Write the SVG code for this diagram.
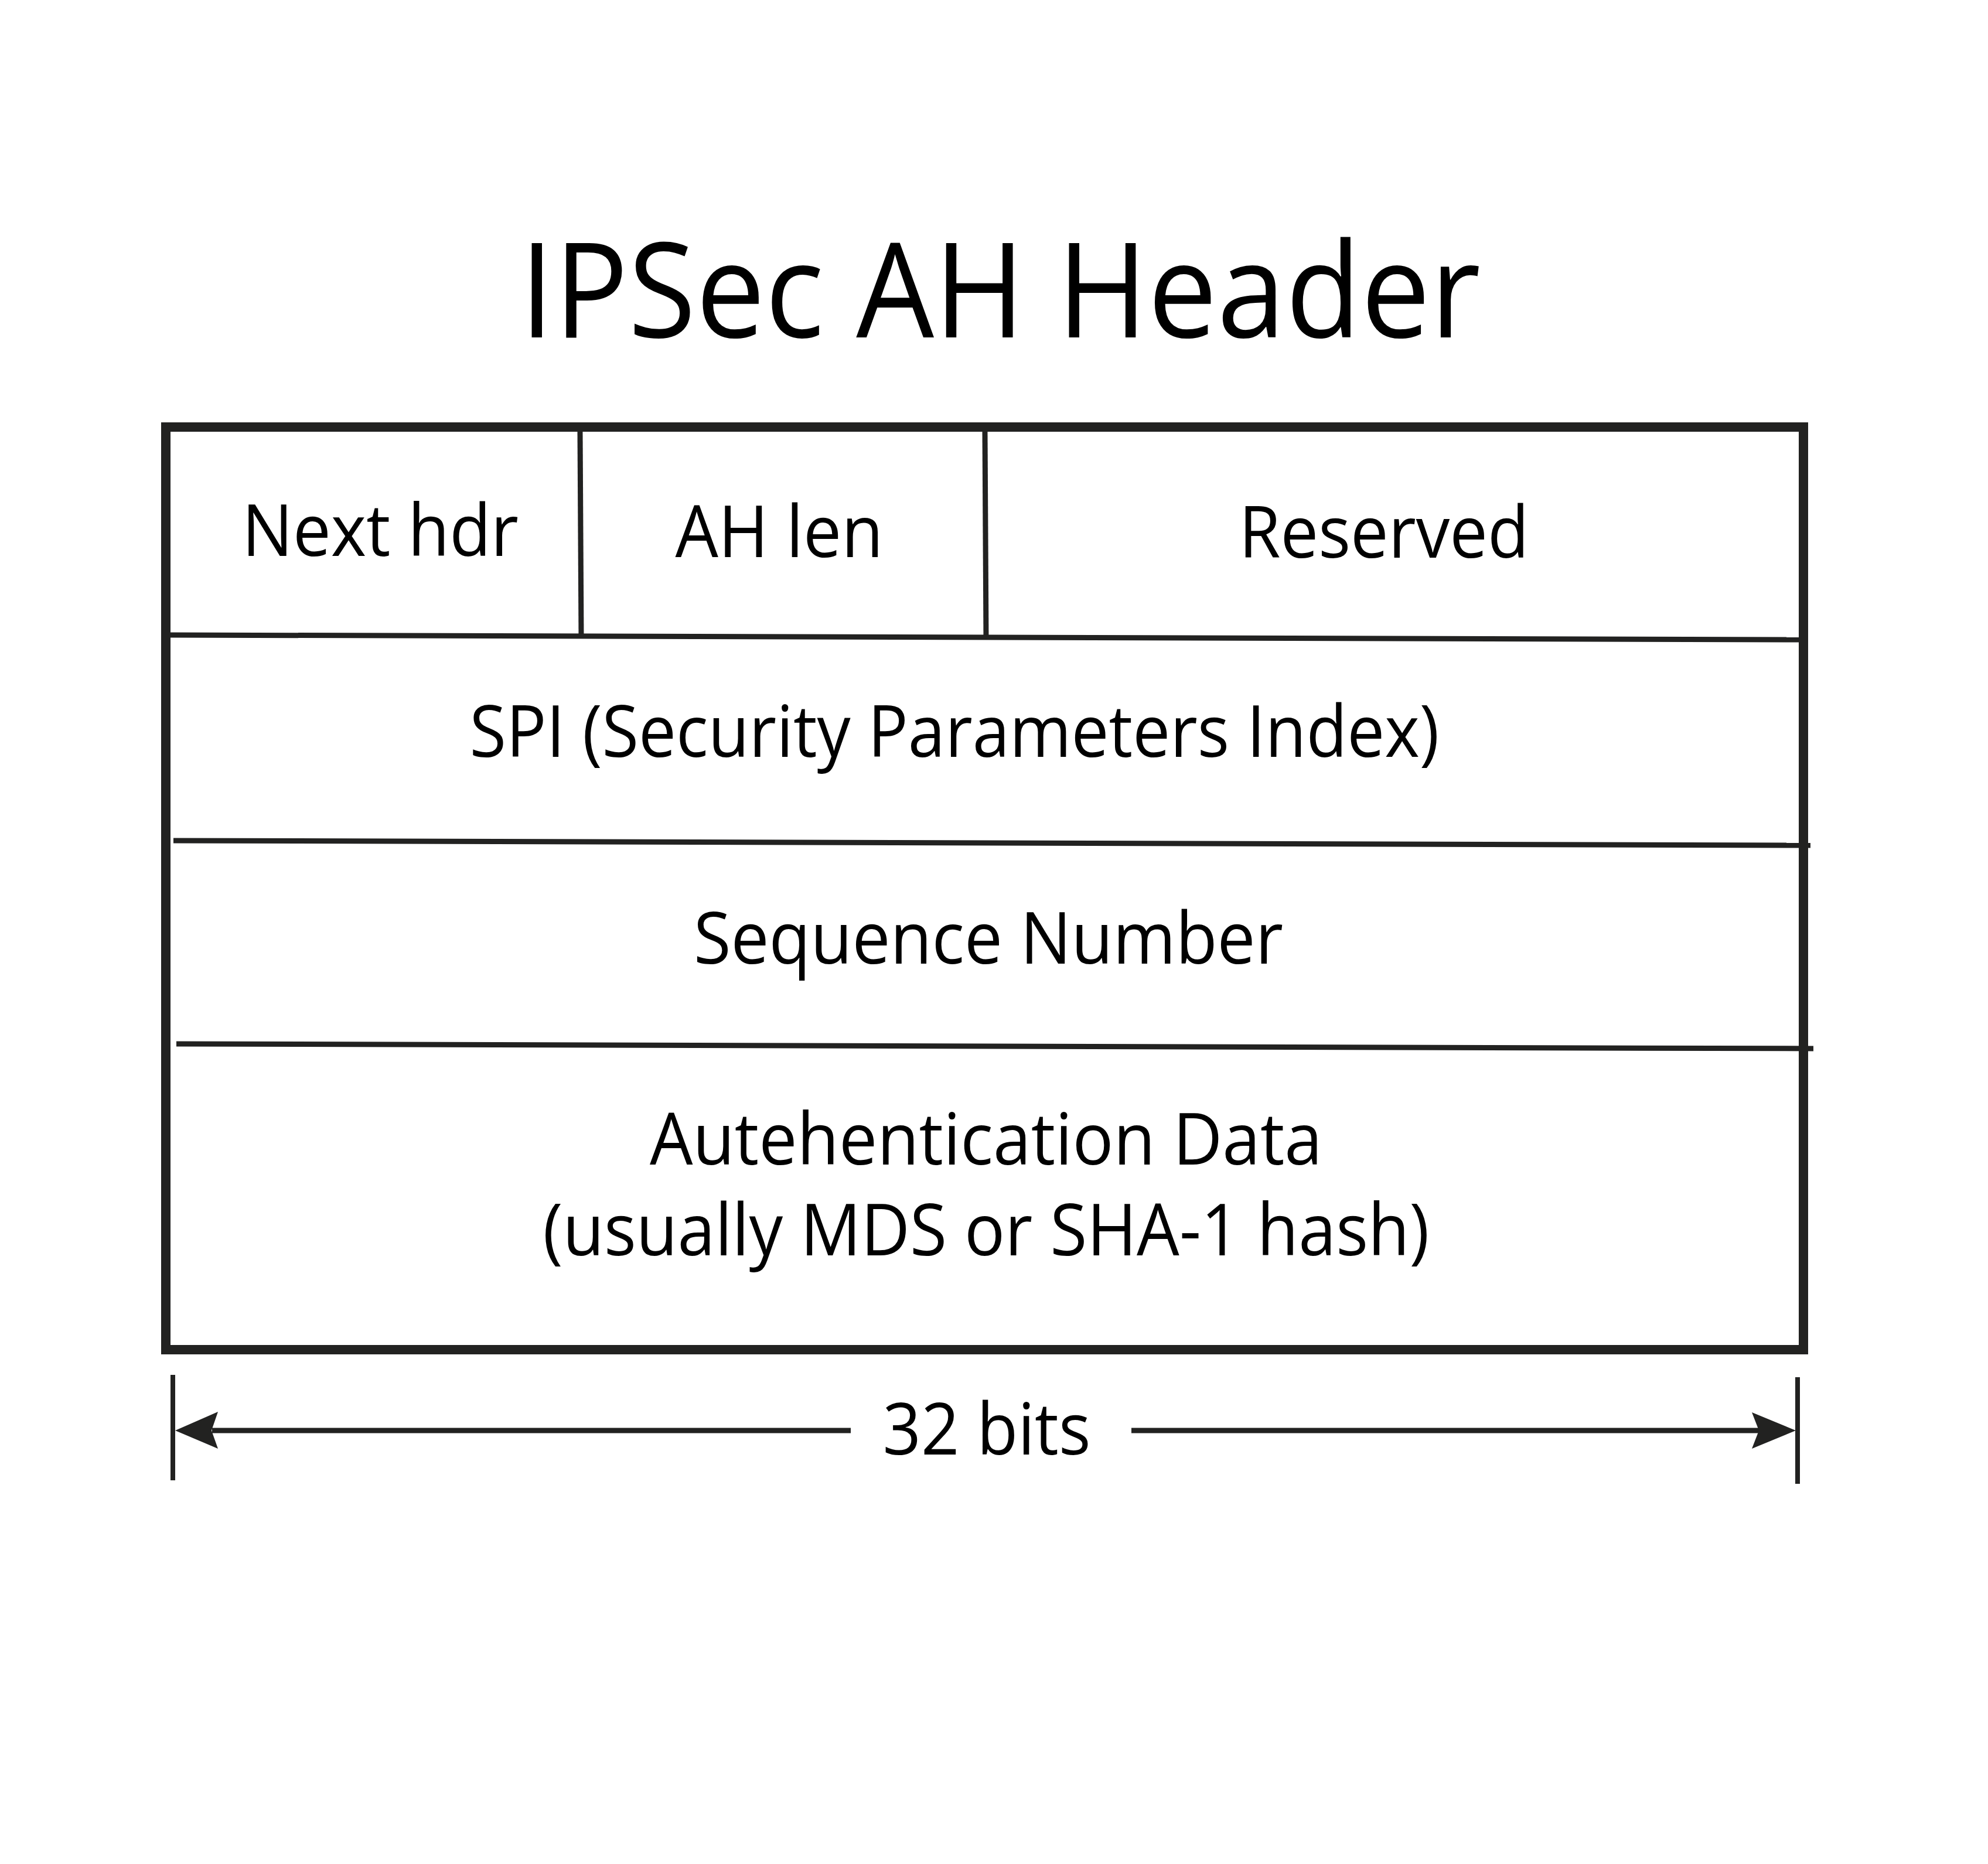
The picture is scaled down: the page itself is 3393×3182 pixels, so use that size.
<svg xmlns="http://www.w3.org/2000/svg" width="3393" height="3182" viewBox="0 0 3393 3182">
<style>
.t{font-family:"Open Sans","Noto Sans","Liberation Sans",sans-serif;fill:#000;text-anchor:middle}
.f{font-size:122px}
.ln{stroke:#222221;fill:none;stroke-linecap:butt}
.ah{fill:#222221}
</style>
<rect x="0" y="0" width="3393" height="3182" fill="#ffffff"/>
<g id="title">
<text class="t" x="1707" y="576" font-size="226" textLength="1640" lengthAdjust="spacingAndGlyphs">IPSec AH Header</text>
</g>
<g id="frame">
<rect class="ln" x="283" y="729" width="2795" height="1575" stroke-width="16"/>
<line class="ln" x1="990" y1="737" x2="992" y2="1090" stroke-width="9"/>
<line class="ln" x1="1681" y1="737" x2="1683" y2="1092" stroke-width="9"/>
<line class="ln" x1="291" y1="1084" x2="3070" y2="1092" stroke-width="9"/>
<line class="ln" x1="296" y1="1435" x2="3090" y2="1443" stroke-width="9"/>
<line class="ln" x1="301" y1="1782" x2="3095" y2="1790" stroke-width="9"/>
</g>
<g id="next-hdr">
<text class="t f" x="649" y="949" textLength="472" lengthAdjust="spacingAndGlyphs">Next hdr</text>
</g>
<g id="ah-len">
<text class="t f" x="1330" y="951" textLength="355" lengthAdjust="spacingAndGlyphs">AH len</text>
</g>
<g id="reserved">
<text class="t f" x="2362" y="952" textLength="495" lengthAdjust="spacingAndGlyphs">Reserved</text>
</g>
<g id="spi">
<text class="t f" x="1629" y="1292" textLength="1655" lengthAdjust="spacingAndGlyphs">SPI (Security Parameters Index)</text>
</g>
<g id="sequence-number">
<text class="t f" x="1687" y="1645" textLength="1006" lengthAdjust="spacingAndGlyphs">Sequence Number</text>
</g>
<g id="auth-data">
<text class="t f" x="1683" y="1988" textLength="1148" lengthAdjust="spacingAndGlyphs">Autehentication Data</text>
<text class="t f" x="1683" y="2143" textLength="1513" lengthAdjust="spacingAndGlyphs">(usually MDS or SHA-1 hash)</text>
</g>
<g id="connectors">
<line class="ln" x1="295" y1="2347" x2="295" y2="2527" stroke-width="8"/>
<line class="ln" x1="3068" y1="2351" x2="3068" y2="2533" stroke-width="8"/>
<line class="ln" x1="362" y1="2442" x2="1452" y2="2442" stroke-width="9"/>
<polygon class="ah" points="299,2442 372,2410 361,2442 372,2473"/>
<line class="ln" x1="1931" y1="2442" x2="3002" y2="2442" stroke-width="9"/>
<polygon class="ah" points="3065,2442 2990,2411 3002,2442 2990,2473"/>
<text class="t f" x="1684" y="2483" textLength="355" lengthAdjust="spacingAndGlyphs">32 bits</text>
</g>
</svg>
